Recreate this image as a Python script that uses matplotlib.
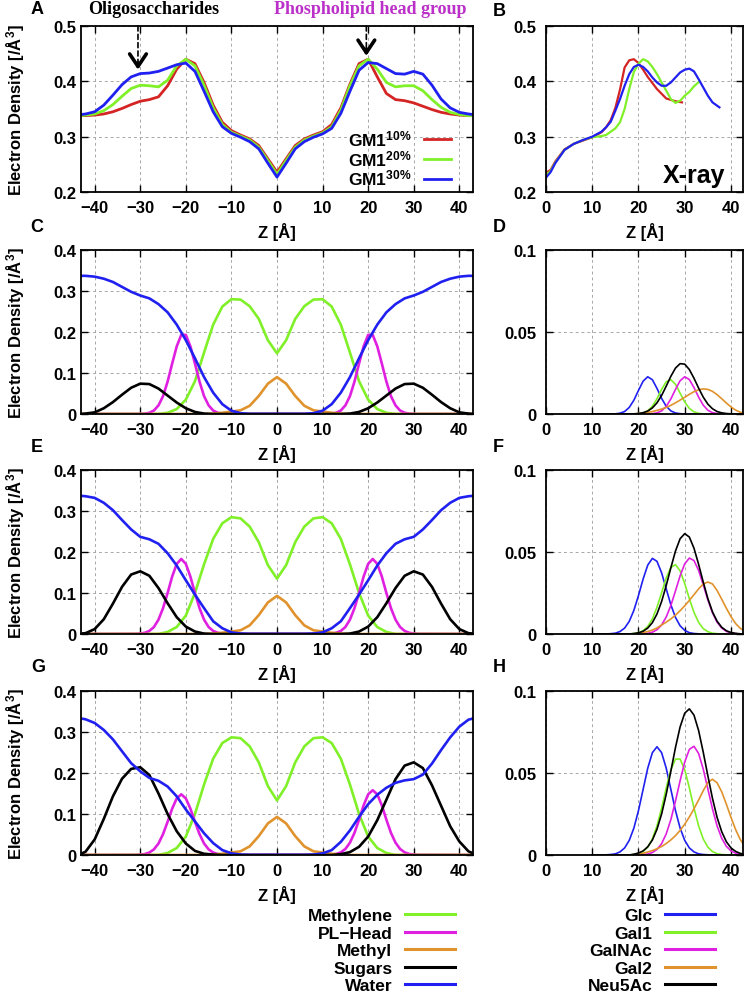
import numpy as np
import matplotlib
matplotlib.use("Agg")
import matplotlib.pyplot as plt
from matplotlib.ticker import FuncFormatter

plt.rcParams['font.family'] = ['Liberation Sans', 'DejaVu Sans']
plt.rcParams['font.weight'] = 'bold'
plt.rcParams['mathtext.fontset'] = 'custom'
plt.rcParams['mathtext.rm'] = 'Liberation Sans:bold'
plt.rcParams['mathtext.it'] = 'Liberation Sans:bold'
plt.rcParams['mathtext.bf'] = 'Liberation Sans:bold'

# ---------------- data ----------------
# z positions (A) for the symmetric bilayer panels A, C, E, G
z_full = [-43, -42, -40, -38, -36, -34, -32, -30, -28, -26, -24, -22, -20, -18, -16, -14, -12, -10, -8, -6, -4, -2,
          0, 2, 4, 6, 8, 10, 12, 14, 16, 18, 20, 22, 24, 26, 28, 30, 32, 34, 36, 38, 40, 42, 43]
# finer z positions for the narrow PL-head peaks
z_pl = [-43, -31, -30, -29, -28, -27, -26, -25, -24, -23, -22, -21, -20, -19, -18, -17, -16, -15, -14, -13, -12, -11,
        11, 12, 13, 14, 15, 16, 17, 18, 19, 20, 21, 22, 23, 24, 25, 26, 27, 28, 29, 30, 31, 43]
# z positions for the sugar panels D, F, H
z_half = [10, 11, 12, 13, 14, 15, 16, 17, 18, 19, 20, 21, 22, 23, 24, 25, 26, 27, 28, 29, 30, 31, 32, 33, 34, 35, 36,
          37, 38, 39, 40, 41, 42, 43]

# Panel A: total electron density
gm1_labels = ['GM1$^{10\\%}$', 'GM1$^{20\\%}$', 'GM1$^{30\\%}$']
gm1_10 = [0.338, 0.338, 0.339, 0.341, 0.345, 0.351, 0.358, 0.364, 0.367, 0.372, 0.392, 0.422, 0.440, 0.432, 0.398,
          0.357, 0.326, 0.311, 0.303, 0.296, 0.284, 0.260, 0.236, 0.260, 0.284, 0.296, 0.303, 0.309, 0.322, 0.352,
          0.395, 0.432, 0.440, 0.408, 0.378, 0.367, 0.365, 0.361, 0.355, 0.349, 0.344, 0.341, 0.339, 0.338, 0.338]
gm1_20 = [0.338, 0.339, 0.341, 0.347, 0.358, 0.373, 0.387, 0.393, 0.392, 0.390, 0.402, 0.428, 0.440, 0.428, 0.393,
          0.352, 0.322, 0.308, 0.301, 0.294, 0.281, 0.257, 0.232, 0.257, 0.281, 0.294, 0.301, 0.307, 0.318, 0.348,
          0.392, 0.428, 0.440, 0.422, 0.398, 0.390, 0.392, 0.392, 0.383, 0.367, 0.353, 0.344, 0.340, 0.338, 0.338]
gm1_30 = [0.340, 0.341, 0.345, 0.357, 0.375, 0.394, 0.408, 0.414, 0.415, 0.418, 0.424, 0.430, 0.433, 0.418, 0.382,
          0.345, 0.318, 0.306, 0.299, 0.291, 0.278, 0.252, 0.227, 0.252, 0.278, 0.291, 0.299, 0.305, 0.315, 0.342,
          0.382, 0.420, 0.434, 0.432, 0.423, 0.414, 0.413, 0.418, 0.413, 0.393, 0.368, 0.352, 0.344, 0.341, 0.340]

# Panel B: X-ray profiles
xray_z_10 = [0, 1, 2, 4, 6, 8, 10, 12, 13, 14, 15, 16, 17, 18, 19, 20, 21, 22, 24, 26, 28, 29.4]
xray_10 = [0.235, 0.240, 0.255, 0.277, 0.287, 0.293, 0.299, 0.308, 0.317, 0.330, 0.352, 0.385, 0.425, 0.438, 0.440,
           0.433, 0.421, 0.408, 0.386, 0.369, 0.364, 0.362]
xray_z_20 = [0, 1, 2, 4, 6, 8, 10, 12, 13, 14, 15, 16, 17, 18, 19, 20, 21, 22, 23, 24, 26, 27, 28, 29, 30, 31, 32, 33.2]
xray_20 = [0.231, 0.238, 0.253, 0.276, 0.287, 0.294, 0.299, 0.301, 0.303, 0.309, 0.315, 0.326, 0.350, 0.386, 0.417,
           0.432, 0.440, 0.436, 0.426, 0.413, 0.383, 0.368, 0.361, 0.365, 0.374, 0.381, 0.391, 0.400]
xray_z_30 = [0, 1, 2, 4, 6, 8, 10, 12, 13, 14, 15, 16, 17, 18, 19, 20, 21, 22, 23, 24, 25, 26, 27, 28, 29, 30, 31, 32,
             33, 34, 35, 36, 37.5]
xray_30 = [0.226, 0.236, 0.252, 0.276, 0.287, 0.294, 0.300, 0.309, 0.317, 0.327, 0.347, 0.368, 0.392, 0.413, 0.426,
           0.430, 0.426, 0.418, 0.407, 0.398, 0.392, 0.392, 0.398, 0.407, 0.416, 0.421, 0.423, 0.418, 0.404, 0.389,
           0.374, 0.362, 0.353]

# Panels C, E, G: component densities
comp_labels = ['Methylene', 'PL\u2212Head', 'Methyl', 'Sugars', 'Water']

methylene_c = [0, 0, 0, 0, 0, 0, 0, 0, 0, 0, 0.003, 0.012, 0.035, 0.080, 0.150, 0.218, 0.262, 0.280, 0.279, 0.263,
               0.232, 0.180, 0.148, 0.180, 0.232, 0.263, 0.279, 0.280, 0.262, 0.218, 0.150, 0.080, 0.035, 0.012, 0.003,
               0, 0, 0, 0, 0, 0, 0, 0, 0, 0]
plhead_c = [0, 0.0000, 0.0002, 0.0009, 0.003, 0.0085, 0.021, 0.0435, 0.079, 0.123, 0.165, 0.193, 0.193, 0.165, 0.123,
            0.079, 0.0435, 0.021, 0.0085, 0.003, 0.0009, 0.0002,
            0.0002, 0.0009, 0.003, 0.0085, 0.021, 0.0435, 0.079, 0.123, 0.165, 0.193, 0.193, 0.165, 0.123, 0.079,
            0.0435, 0.021, 0.0085, 0.003, 0.0009, 0.0002, 0.0000, 0]
methyl_c = [0, 0, 0, 0, 0, 0, 0, 0, 0, 0, 0, 0, 0, 0, 0, 0.001, 0.003, 0.006, 0.009, 0.020, 0.044, 0.074, 0.090,
            0.074, 0.044, 0.020, 0.009, 0.006, 0.003, 0.001, 0, 0, 0, 0, 0, 0, 0, 0, 0, 0, 0, 0, 0, 0, 0]
sugars_c = [0.000, 0.001, 0.004, 0.014, 0.029, 0.047, 0.064, 0.074, 0.073, 0.062, 0.045, 0.028, 0.014, 0.005, 0.001,
            0, 0, 0, 0, 0, 0, 0, 0, 0, 0, 0, 0, 0, 0, 0, 0.001, 0.005, 0.014, 0.028, 0.045, 0.062, 0.073, 0.074,
            0.064, 0.047, 0.029, 0.014, 0.004, 0.001, 0.000]
water_c = [0.337, 0.337, 0.335, 0.330, 0.322, 0.310, 0.298, 0.289, 0.282, 0.268, 0.248, 0.218, 0.180, 0.136, 0.090,
           0.052, 0.024, 0.008, 0.002, 0, 0, 0, 0, 0, 0, 0, 0.002, 0.008, 0.024, 0.052, 0.090, 0.136, 0.180, 0.218,
           0.248, 0.268, 0.282, 0.289, 0.298, 0.310, 0.322, 0.330, 0.335, 0.337, 0.337]

methylene_e = [0, 0, 0, 0, 0, 0, 0, 0, 0, 0, 0.005, 0.017, 0.045, 0.100, 0.170, 0.232, 0.270, 0.285, 0.282, 0.262,
               0.224, 0.168, 0.135, 0.168, 0.224, 0.262, 0.282, 0.285, 0.270, 0.232, 0.170, 0.100, 0.045, 0.017, 0.005,
               0, 0, 0, 0, 0, 0, 0, 0, 0, 0]
plhead_e = [0, 0.0003, 0.001, 0.003, 0.0075, 0.017, 0.035, 0.063, 0.100, 0.140, 0.171, 0.183, 0.171, 0.140, 0.100,
            0.063, 0.035, 0.017, 0.0075, 0.003, 0.001, 0.0003,
            0.0003, 0.001, 0.003, 0.0075, 0.017, 0.035, 0.063, 0.100, 0.140, 0.171, 0.183, 0.171, 0.140, 0.100,
            0.063, 0.035, 0.017, 0.0075, 0.003, 0.001, 0.0003, 0]
methyl_e = [0, 0, 0, 0, 0, 0, 0, 0, 0, 0, 0, 0, 0, 0, 0, 0.001, 0.003, 0.006, 0.009, 0.021, 0.046, 0.077, 0.093,
            0.077, 0.046, 0.021, 0.009, 0.006, 0.003, 0.001, 0, 0, 0, 0, 0, 0, 0, 0, 0, 0, 0, 0, 0, 0, 0]
sugars_e = [0.001, 0.002, 0.012, 0.036, 0.074, 0.115, 0.145, 0.153, 0.142, 0.112, 0.075, 0.041, 0.018, 0.006, 0.001,
            0, 0, 0, 0, 0, 0, 0, 0, 0, 0, 0, 0, 0, 0, 0, 0.001, 0.006, 0.018, 0.041, 0.075, 0.112, 0.142, 0.153,
            0.145, 0.115, 0.074, 0.036, 0.012, 0.002, 0.001]
water_e = [0.337, 0.336, 0.332, 0.320, 0.302, 0.278, 0.255, 0.237, 0.231, 0.220, 0.197, 0.167, 0.131, 0.096, 0.063,
           0.031, 0.014, 0.004, 0.001, 0, 0, 0, 0, 0, 0, 0, 0.001, 0.004, 0.014, 0.031, 0.063, 0.096, 0.131, 0.167,
           0.197, 0.220, 0.231, 0.237, 0.255, 0.278, 0.302, 0.320, 0.332, 0.336, 0.337]

methylene_g = [0, 0, 0, 0, 0, 0, 0, 0, 0, 0, 0.005, 0.017, 0.045, 0.100, 0.172, 0.235, 0.273, 0.287, 0.285, 0.265,
               0.226, 0.168, 0.133, 0.168, 0.226, 0.265, 0.285, 0.287, 0.273, 0.235, 0.172, 0.100, 0.045, 0.017, 0.005,
               0, 0, 0, 0, 0, 0, 0, 0, 0, 0]
plhead_g = [0, 0.0002, 0.0008, 0.0024, 0.006, 0.0138, 0.028, 0.051, 0.081, 0.113, 0.138, 0.148, 0.138, 0.113, 0.081,
            0.051, 0.028, 0.0138, 0.006, 0.0024, 0.0008, 0.0002,
            0.0003, 0.0009, 0.0026, 0.0065, 0.0147, 0.030, 0.054, 0.086, 0.121, 0.148, 0.158, 0.148, 0.121, 0.086,
            0.054, 0.030, 0.0147, 0.0065, 0.0026, 0.0009, 0.0003, 0]
methyl_g = [0, 0, 0, 0, 0, 0, 0, 0, 0, 0, 0, 0, 0, 0, 0, 0.001, 0.003, 0.006, 0.009, 0.021, 0.046, 0.077, 0.093,
            0.077, 0.046, 0.021, 0.009, 0.006, 0.003, 0.001, 0, 0, 0, 0, 0, 0, 0, 0, 0, 0, 0, 0, 0, 0, 0]
sugars_g = [0.003, 0.008, 0.038, 0.088, 0.143, 0.186, 0.210, 0.214, 0.195, 0.150, 0.100, 0.058, 0.028, 0.010, 0.003,
            0.001, 0, 0, 0, 0, 0, 0, 0, 0, 0, 0, 0, 0, 0, 0.002, 0.007, 0.020, 0.045, 0.085, 0.135, 0.185, 0.218,
            0.226, 0.212, 0.170, 0.120, 0.070, 0.033, 0.009, 0.004]
water_g = [0.333, 0.331, 0.322, 0.305, 0.282, 0.253, 0.224, 0.204, 0.188, 0.181, 0.167, 0.143, 0.111, 0.082, 0.053,
           0.029, 0.012, 0.004, 0.001, 0, 0, 0, 0, 0, 0, 0, 0.001, 0.004, 0.012, 0.032, 0.060, 0.093, 0.124, 0.147,
           0.164, 0.176, 0.182, 0.185, 0.196, 0.223, 0.256, 0.287, 0.313, 0.330, 0.333]

# Panels D, F, H: individual sugar residues
sugar_labels = ['Glc', 'Gal1', 'GalNAc', 'Gal2', 'Neu5Ac']

glc_d = [0, 0, 0, 0, 0.0000, 0.0001, 0.0005, 0.0015, 0.0040, 0.0084, 0.0144, 0.0200, 0.0227, 0.0209, 0.0156, 0.0095,
         0.0047, 0.0019, 0.0006, 0.0002, 0, 0, 0, 0, 0, 0, 0, 0, 0, 0, 0, 0, 0, 0]
gal1_d = [0, 0, 0, 0, 0, 0, 0, 0, 0, 0, 0.0002, 0.0007, 0.0019, 0.0047, 0.0093, 0.0150, 0.0197, 0.0209, 0.0181,
          0.0127, 0.0073, 0.0034, 0.0013, 0.0004, 0.0001, 0, 0, 0, 0, 0, 0, 0, 0, 0]
galnac_d = [0, 0, 0, 0, 0, 0, 0, 0, 0, 0, 0, 0, 0, 0.0002, 0.0007, 0.0019, 0.0046, 0.0092, 0.0150, 0.0203, 0.0227,
            0.0210, 0.0161, 0.0103, 0.0054, 0.0023, 0.0008, 0.0003, 0.0001, 0, 0, 0, 0, 0]
gal2_d = [0, 0, 0, 0, 0, 0, 0, 0, 0, 0, 0.0003, 0.0006, 0.0010, 0.0015, 0.0022, 0.0030, 0.0040, 0.0053, 0.0068,
          0.0085, 0.0102, 0.0120, 0.0136, 0.0148, 0.0153, 0.0150, 0.0138, 0.0118, 0.0093, 0.0067, 0.0043, 0.0024,
          0.0011, 0.0004]
neu5ac_d = [0, 0, 0, 0, 0, 0, 0, 0, 0, 0.0001, 0.0003, 0.0008, 0.0018, 0.0037, 0.0068, 0.0113, 0.0170, 0.0230, 0.0280,
            0.0307, 0.0304, 0.0271, 0.0218, 0.0158, 0.0103, 0.0060, 0.0032, 0.0015, 0.0007, 0.0003, 0.0001, 0, 0, 0]

glc_f = [0, 0, 0, 0, 0.0002, 0.0005, 0.0015, 0.0036, 0.0077, 0.0144, 0.0235, 0.0335, 0.0420, 0.0461, 0.0443, 0.0373,
         0.0275, 0.0178, 0.0101, 0.0050, 0.0022, 0.0008, 0.0003, 0.0001, 0, 0, 0, 0, 0, 0, 0, 0, 0, 0]
gal1_f = [0, 0, 0, 0, 0, 0, 0, 0, 0, 0.0003, 0.0008, 0.0020, 0.0046, 0.0092, 0.0163, 0.0252, 0.0342, 0.0406, 0.0423,
          0.0385, 0.0308, 0.0215, 0.0132, 0.0071, 0.0033, 0.0014, 0.0005, 0.0002, 0, 0, 0, 0, 0, 0]
galnac_f = [0, 0, 0, 0, 0, 0, 0, 0, 0, 0, 0, 0.0001, 0.0004, 0.0011, 0.0026, 0.0055, 0.0104, 0.0174, 0.0263, 0.0355,
            0.0428, 0.0463, 0.0448, 0.0388, 0.0300, 0.0208, 0.0129, 0.0072, 0.0036, 0.0016, 0.0006, 0.0002, 0.0001, 0]
gal2_f = [0, 0, 0, 0, 0, 0, 0, 0, 0, 0, 0.0005, 0.0009, 0.0015, 0.0024, 0.0037, 0.0055, 0.0072, 0.0092, 0.0115,
          0.0142, 0.0172, 0.0205, 0.0240, 0.0275, 0.0305, 0.0317, 0.0305, 0.0265, 0.0212, 0.0157, 0.0106, 0.0064,
          0.0035, 0.0017]
neu5ac_f = [0, 0, 0, 0, 0, 0, 0, 0, 0, 0.0003, 0.0007, 0.0017, 0.0036, 0.0069, 0.0122, 0.0198, 0.0296, 0.0404, 0.0506,
            0.0581, 0.0612, 0.0591, 0.0523, 0.0425, 0.0317, 0.0216, 0.0135, 0.0078, 0.0041, 0.0020, 0.0009, 0.0004,
            0.0001, 0]

glc_h = [0, 0, 0, 0.0001, 0.0003, 0.0007, 0.0019, 0.0043, 0.0089, 0.0164, 0.0271, 0.0400, 0.0529, 0.0624, 0.0660,
         0.0624, 0.0529, 0.0400, 0.0271, 0.0164, 0.0089, 0.0043, 0.0019, 0.0007, 0.0003, 0.0001, 0, 0, 0, 0, 0, 0, 0, 0]
gal1_h = [0, 0, 0, 0, 0, 0, 0, 0, 0, 0.0003, 0.0008, 0.0021, 0.0048, 0.0098, 0.0178, 0.0286, 0.0409, 0.0520, 0.0585,
          0.0585, 0.0520, 0.0409, 0.0286, 0.0178, 0.0098, 0.0048, 0.0021, 0.0008, 0.0003, 0.0001, 0, 0, 0, 0]
galnac_h = [0, 0, 0, 0, 0, 0, 0, 0, 0, 0, 0, 0.0002, 0.0006, 0.0015, 0.0034, 0.0069, 0.0129, 0.0216, 0.0329, 0.0453,
            0.0567, 0.0644, 0.0663, 0.0619, 0.0524, 0.0403, 0.0281, 0.0177, 0.0102, 0.0053, 0.0025, 0.0011, 0.0004,
            0.0001]
gal2_h = [0, 0, 0, 0, 0, 0, 0, 0, 0, 0, 0.0006, 0.0011, 0.0018, 0.0027, 0.0038, 0.0052, 0.0070, 0.0092, 0.0118,
          0.0150, 0.0188, 0.0232, 0.0282, 0.0335, 0.0392, 0.0442, 0.0462, 0.0440, 0.0385, 0.0310, 0.0230, 0.0155,
          0.0095, 0.0052]
neu5ac_h = [0, 0, 0, 0, 0, 0, 0, 0, 0, 0.0005, 0.0012, 0.0025, 0.0050, 0.0091, 0.0157, 0.0250, 0.0371, 0.0511, 0.0656,
            0.0781, 0.0865, 0.0891, 0.0853, 0.0759, 0.0627, 0.0483, 0.0345, 0.0229, 0.0142, 0.0081, 0.0043, 0.0022,
            0.0010, 0.0004]

# ---------------- style ----------------
RED = '#d42424'
GREEN = '#80f028'
BLUE = '#2020f0'
MAGENTA = '#e020e0'
ORANGE = '#e0922c'
BLACK = '#000000'
comp_colors = [GREEN, MAGENTA, ORANGE, BLACK, BLUE]
sugar_colors = [BLUE, GREEN, MAGENTA, ORANGE, BLACK]

W, H = 747, 1003
fig = plt.figure(figsize=(W / 100, H / 100), dpi=100)


def px_axes(left, top, right, bottom):
    return fig.add_axes([left / W, 1 - bottom / H, (right - left) / W, (bottom - top) / H])


def tick_fmt(v, pos):
    return ('%g' % v).replace('-', '\u2212')


def style(ax, xlim, xticks, ylim, yticks, ypad, ylabel=True):
    ax.set_xlim(xlim)
    ax.set_ylim(ylim)
    ax.set_xticks(xticks)
    ax.set_yticks(yticks)
    ax.xaxis.set_major_formatter(FuncFormatter(tick_fmt))
    ax.yaxis.set_major_formatter(FuncFormatter(tick_fmt))
    ax.tick_params(direction='in', top=True, right=True, length=5, width=1, labelsize=12)
    ax.tick_params(axis='x', pad=6)
    ax.tick_params(axis='y', pad=ypad)
    ax.grid(True, color='#a8a8a8', linestyle=(0, (3, 3)), linewidth=0.7)
    ax.set_axisbelow(True)
    for s in ax.spines.values():
        s.set_linewidth(1.3)
    ax.set_xlabel('Z [Å]', fontsize=12, fontweight='bold', labelpad=5)
    if ylabel:
        ax.set_ylabel('Electron Density [/Å$^{3}$]', fontsize=12, fontweight='bold')
        ax.yaxis.set_label_coords(-0.138, 0.5)


left_x = (81, 473)
right_x = (546, 743)
rows = [(27, 193), (251, 415), (471, 635), (692, 856)]
sym_ticks = [-40, -30, -20, -10, 0, 10, 20, 30, 40]
half_ticks = [0, 10, 20, 30, 40]

# Panel A
axA = px_axes(left_x[0], rows[0][0], left_x[1], rows[0][1])
for y, c, lab in zip([gm1_10, gm1_20, gm1_30], [RED, GREEN, BLUE], gm1_labels):
    axA.plot(z_full, y, color=c, lw=2.0, label=lab)
style(axA, (-43, 43), sym_ticks, (0.2, 0.5), [0.2, 0.3, 0.4, 0.5], 3.5)
axA.legend(loc='lower right', bbox_to_anchor=(0.944, 0.025), frameon=False, markerfirst=False,
           handlelength=1.55, handletextpad=0.7, labelspacing=0.0, borderpad=0, borderaxespad=0,
           prop={'weight': 'bold', 'size': 12.5})
for xa, ytip in [(-30.5, 0.421), (19.6, 0.446)]:
    axA.annotate('', xy=(xa, ytip + 0.004), xytext=(xa, 0.5),
                 arrowprops=dict(arrowstyle='-', ls=(0, (3, 2)), lw=1.2, color='black', shrinkA=0, shrinkB=0))
    axA.annotate('', xy=(xa, ytip), xytext=(xa, ytip + 0.012),
                 arrowprops=dict(arrowstyle='->,head_length=0.45,head_width=0.3', lw=2.6, color='black',
                                 shrinkA=0, shrinkB=0, mutation_scale=20))

# Panel B
axB = px_axes(right_x[0], rows[0][0], right_x[1], rows[0][1])
axB.plot(xray_z_10, xray_10, color=RED, lw=1.6)
axB.plot(xray_z_20, xray_20, color=GREEN, lw=1.6)
axB.plot(xray_z_30, xray_30, color=BLUE, lw=1.6)
style(axB, (0, 42.6), half_ticks, (0.2, 0.5), [0.2, 0.3, 0.4, 0.5], 7, ylabel=False)
axB.text(0.91, 0.1, 'X-ray', transform=axB.transAxes, ha='right', va='center', fontsize=18, fontweight='bold')

# Panels C, E, G (left) and D, F, H (right)
comp_sets = [
    [methylene_c, plhead_c, methyl_c, sugars_c, water_c],
    [methylene_e, plhead_e, methyl_e, sugars_e, water_e],
    [methylene_g, plhead_g, methyl_g, sugars_g, water_g],
]
comp_z = [z_full, z_pl, z_full, z_full, z_full]
sugar_sets = [
    [glc_d, gal1_d, galnac_d, gal2_d, neu5ac_d],
    [glc_f, gal1_f, galnac_f, gal2_f, neu5ac_f],
    [glc_h, gal1_h, galnac_h, gal2_h, neu5ac_h],
]
comp_handles = []
sugar_handles = []
for i, (top, bottom) in enumerate(rows[1:]):
    axl = px_axes(left_x[0], top, left_x[1], bottom)
    lines = []
    for zz, y, c, lab in zip(comp_z, comp_sets[i], comp_colors, comp_labels):
        ln, = axl.plot(zz, y, color=c, lw=1.9, label=lab)
        lines.append(ln)
    style(axl, (-43, 43), sym_ticks, (0, 0.4), [0, 0.1, 0.2, 0.3, 0.4], 3.5)
    comp_handles = lines

    axr = px_axes(right_x[0], top, right_x[1], bottom)
    lines = []
    for y, c, lab in zip(sugar_sets[i], sugar_colors, sugar_labels):
        ln, = axr.plot(z_half, y, color=c, lw=1.2, label=lab)
        lines.append(ln)
    style(axr, (0, 42.6), half_ticks, (0, 0.1), [0, 0.05, 0.1], 7, ylabel=False)
    sugar_handles = lines

# bottom legends
leg_kw = dict(loc='upper right', frameon=False, markerfirst=False, handlelength=2.9, handletextpad=0.7,
              labelspacing=0.14, borderpad=0, borderaxespad=0, prop={'weight': 'bold', 'size': 12.5})
leg1 = fig.legend(comp_handles, comp_labels, bbox_to_anchor=(455 / W, 1 - 909 / H), **leg_kw)
for l in leg1.get_lines():
    l.set_linewidth(2.2)
leg2 = fig.legend(sugar_handles, sugar_labels, bbox_to_anchor=(715 / W, 1 - 909 / H), **leg_kw)
for l in leg2.get_lines():
    l.set_linewidth(2.2)

# panel letters and titles
letters = [('A', 37, 9), ('B', 499, 11), ('C', 37, 228), ('D', 499, 228),
           ('E', 37, 447), ('F', 498, 447), ('G', 38, 668), ('H', 499, 668)]
for t, x, y in letters:
    fig.text(x / W, 1 - y / H, t, ha='center', va='center', fontsize=13, fontweight='bold')
fig.text(154 / W, 1 - 10 / H, 'Oligosaccharides', ha='center', va='center', fontsize=13, fontweight='bold',
         family='Liberation Serif')
fig.text(370 / W, 1 - 10 / H, 'Phospholipid head group', ha='center', va='center', fontsize=13, fontweight='bold',
         family='Liberation Serif', color='#bb30c8')

fig.savefig('out.png', dpi=100)
